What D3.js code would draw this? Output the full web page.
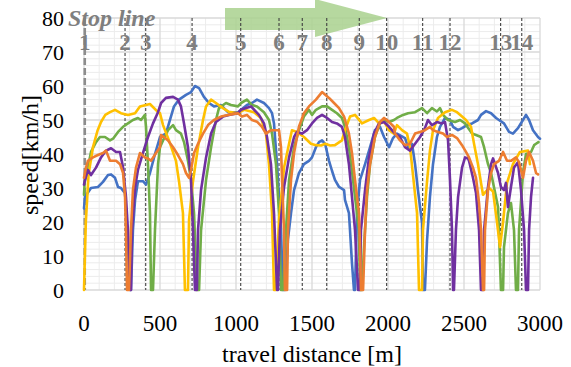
<!DOCTYPE html>
<html><head><meta charset="utf-8">
<script src="https://cdn.jsdelivr.net/npm/d3@7/dist/d3.min.js"></script>
<style>body{margin:0;background:#fff}svg{display:block}</style>
</head><body>
<svg id="chart" width="571" height="367"></svg>
<script>
// ---------- data ----------
const xTickValues = [0, 500, 1000, 1500, 2000, 2500, 3000];
const yTickValues = [0, 10, 20, 30, 40, 50, 60, 70, 80];
const stopLabels = ["1","2","3","4","5","6","7","8","9","10","11","12","13","14"];
const stopDistances = [5, 270, 406, 711, 1031, 1283, 1436, 1597, 1811, 1991, 2228, 2408, 2741, 2880];

const blue = [[0,24],[7,27.4],[46,30],[92,30.3],[125,31.8],[158,33.8],[178,34],[204,33],[224,30.3],[243,30],[270,28.5],[289,12.6],[303,0],[309,0],[322,17.6],[336,26.5],[355,32],[388,32],[408,31],[434,34.4],[467,40],[500,45],[539,46],[572,51],[592,54],[625,56],[671,57.4],[704,58.2],[730,60],[757,59.4],[789,56.8],[822,55],[855,54],[901,54.4],[947,52.3],[1013,52.3],[1072,54.4],[1105,55],[1138,56],[1184,55],[1217,53.5],[1237,52],[1250,49],[1270,37],[1296,17.6],[1309,0],[1322,0],[1342,15],[1362,22.6],[1382,29.4],[1414,34.4],[1447,37],[1480,38],[1500,39],[1526,42],[1546,43.5],[1566,44],[1586,43],[1612,38],[1632,35],[1651,32.4],[1678,30.3],[1711,29.4],[1717,26.5],[1743,22.6],[1750,17.6],[1763,7.9],[1776,0],[1783,0],[1796,22.6],[1816,32.4],[1849,37],[1882,42],[1914,47],[1947,48],[1974,45],[2007,42],[2033,44.7],[2059,46],[2112,44.7],[2132,42],[2158,43],[2178,37],[2197,29.4],[2224,19.7],[2230,0],[2243,0],[2257,14.7],[2276,27.4],[2296,37],[2322,45],[2342,48],[2375,50.6],[2408,50],[2428,48],[2461,47],[2487,47.6],[2520,48.5],[2553,49],[2592,50],[2612,51.5],[2645,52.6],[2678,52],[2711,50.6],[2730,50],[2763,49],[2796,46.5],[2822,46],[2855,47.6],[2888,50],[2908,51.5],[2928,50],[2954,47],[2987,45],[3000,44.5]];

const green = [[0,28],[5,32],[26,36],[46,40.6],[79,43.5],[105,45],[138,45],[171,44],[191,44.5],[224,46.5],[257,48],[289,49],[322,50],[355,50.6],[375,50],[401,51.5],[408,48],[421,37],[434,22.6],[441,0],[454,0],[467,17.6],[487,37],[500,42],[520,44],[553,47],[586,48.5],[605,47],[638,46],[658,43.5],[684,38],[704,32.4],[724,22.6],[743,0],[757,0],[770,17.6],[803,32.4],[836,42],[868,50],[888,53.5],[934,55],[967,54.4],[1013,54],[1033,55],[1072,56],[1105,54.4],[1138,54],[1184,52.3],[1217,50],[1237,46],[1263,37],[1283,22.6],[1296,0],[1309,0],[1329,17.6],[1349,32.4],[1382,42],[1414,47],[1447,51],[1480,53],[1500,51.5],[1526,53],[1566,54],[1599,54],[1632,53],[1664,52],[1697,50.6],[1717,48],[1743,42],[1763,35],[1783,27.4],[1809,17.6],[1816,0],[1829,0],[1842,12.6],[1862,27.4],[1882,37],[1914,45],[1947,49],[1974,50],[2007,49.4],[2039,50],[2059,50.6],[2099,51.5],[2132,52],[2178,52.3],[2224,53.5],[2257,52],[2289,53.5],[2322,52.5],[2342,53.5],[2362,51.5],[2395,50],[2441,49.4],[2474,50],[2507,49],[2530,47.5],[2553,46],[2579,45.6],[2612,45],[2632,42],[2658,37],[2678,34.4],[2697,30.3],[2724,24.4],[2730,17.6],[2743,0],[2757,0],[2763,12.6],[2789,22.6],[2809,25.6],[2829,17.6],[2842,0],[2855,0],[2862,17.6],[2888,34.4],[2908,40],[2941,40.6],[2961,42.6],[2974,43],[2990,43.5]];

const yellow = [[0,0],[12,20],[30,34],[59,42],[90,47],[112,49.4],[140,51.5],[171,52.3],[204,53],[243,52],[289,51.5],[336,52],[368,54],[434,54.7],[487,52.3],[500,52],[520,48.5],[559,44],[605,38],[625,32],[651,22.6],[664,0],[684,0],[691,20.6],[717,32],[750,42],[783,50],[803,54],[836,56],[868,55],[914,53.5],[954,52.4],[1013,52],[1053,53],[1118,52.3],[1164,50.6],[1197,46],[1217,37],[1237,22.6],[1250,0],[1263,0],[1283,20.6],[1316,36],[1349,43],[1368,47],[1401,46.5],[1447,45],[1493,43],[1526,42.6],[1560,42.5],[1586,43],[1620,42.5],[1651,42.6],[1697,44],[1717,47],[1750,51],[1783,51.5],[1829,49],[1875,50],[1908,50.6],[1941,49],[1974,49.5],[2007,47],[2039,46],[2059,48.5],[2092,47],[2125,46],[2145,42],[2164,34],[2191,22.6],[2204,0],[2224,0],[2230,17.6],[2257,32],[2276,41],[2296,47],[2329,50.6],[2375,52.3],[2421,53],[2454,52.3],[2487,51],[2513,50],[2546,48],[2566,43],[2592,37],[2612,31.5],[2625,28],[2645,29],[2665,30],[2691,29],[2717,20],[2737,12.6],[2757,20],[2783,31.5],[2822,37],[2868,40.6],[2921,41],[2934,37]];

const purple = [[0,31],[7,32.4],[26,35.3],[46,33.8],[79,36],[112,39],[145,41],[178,41.7],[211,40.6],[237,40.6],[257,36],[276,27.4],[289,17.6],[303,0],[309,0],[316,17.6],[336,30.3],[355,35.3],[388,40.3],[421,45],[454,49],[487,52.3],[507,55],[539,56.5],[586,56.8],[618,56],[638,54],[658,49],[684,42],[704,32.4],[717,17.6],[730,0],[743,0],[750,17.6],[770,29.4],[803,39],[836,46],[868,49.4],[914,51],[954,51.5],[1013,52],[1033,53],[1066,53.5],[1099,54],[1151,51.5],[1184,49],[1204,45],[1230,37],[1250,22.6],[1270,0],[1276,0],[1289,17.6],[1316,30.3],[1349,39],[1382,45],[1401,46.5],[1434,46],[1467,47],[1500,49],[1533,50.6],[1566,51.5],[1599,50.6],[1632,49.4],[1664,49],[1697,48],[1717,45],[1743,37],[1763,27.4],[1783,17.6],[1803,0],[1816,0],[1822,17.6],[1849,29.4],[1875,39],[1908,46],[1941,49],[1974,49.4],[2007,48],[2046,46],[2079,45],[2112,42],[2145,41],[2178,43],[2211,45],[2243,47.6],[2263,50],[2289,48.5],[2322,49.4],[2355,49],[2375,49.4],[2395,44],[2408,32.4],[2421,17.6],[2428,0],[2434,0],[2447,17.6],[2461,27.4],[2487,36],[2507,39],[2526,38.7],[2533,38],[2559,33],[2579,28.5],[2599,17.6],[2612,0],[2625,0],[2632,17.6],[2658,30.3],[2678,37],[2691,38.7],[2724,34.4],[2743,30.3],[2763,29.4],[2776,31.5],[2789,24.4],[2809,30.3],[2829,36],[2855,37.6],[2875,29.4],[2895,17.6],[2908,0],[2921,0],[2928,17.6],[2941,27.4],[2954,33]];

const orange = [[0,33],[13,36],[26,38],[59,39],[92,39.7],[125,40.3],[145,41],[171,38],[211,38],[237,37],[257,34.4],[270,27.4],[276,17.6],[283,0],[296,0],[309,17.6],[322,29.4],[342,36],[368,40.3],[401,39],[421,38.7],[441,38],[474,40.3],[500,42],[507,45.6],[526,45],[553,44],[586,42],[618,39.7],[651,37],[671,34.4],[691,33],[704,35.3],[724,40.3],[750,43],[783,46],[816,48.5],[855,50],[901,51],[947,51.5],[1013,52],[1039,51],[1072,51.5],[1105,50],[1138,49.5],[1171,48],[1197,46],[1230,47],[1263,47],[1283,47],[1296,42],[1303,32.4],[1316,17.6],[1322,0],[1336,0],[1342,17.6],[1362,32.4],[1382,40.3],[1414,48],[1447,52],[1480,54],[1526,56],[1566,58.2],[1612,56.5],[1645,55],[1678,53.5],[1711,51],[1743,46],[1763,40.3],[1783,32.4],[1809,22.6],[1816,12.6],[1822,0],[1836,0],[1849,17.6],[1862,29.4],[1882,37],[1914,45],[1947,49.4],[1974,50.6],[1993,50],[2039,48],[2046,46],[2079,44],[2112,42.6],[2145,43],[2178,46],[2211,46.5],[2243,47],[2276,48],[2296,47],[2329,46.5],[2362,46],[2388,45],[2421,45.6],[2454,44.7],[2487,42.6],[2513,40.6],[2533,39],[2559,36],[2579,33],[2599,25.6],[2612,17.6],[2625,0],[2632,0],[2638,17.6],[2658,29.4],[2678,34.4],[2697,37],[2730,38],[2757,40.6],[2783,38],[2809,38],[2842,39],[2862,37.6],[2888,33],[2908,38],[2928,40.6],[2954,38],[2974,34.4],[2987,34]];

// ---------- layout ----------
const W = 571, H = 367;
const plot = {left: 84, right: 540, top: 18, bottom: 290};
const x = d3.scaleLinear().domain([0, 3000]).range([plot.left, plot.right]);
const y = d3.scaleLinear().domain([0, 80]).range([plot.bottom, plot.top]);
const svg = d3.select("#chart");
svg.append("rect").attr("width", W).attr("height", H).attr("fill", "#fff");

const serif = "'Liberation Serif','Times New Roman',serif";

// minor grid
const g = svg.append("g");
g.selectAll("line.mx").data(d3.range(0, 3001, 100).filter(v => v % 500 !== 0)).join("line")
  .attr("x1", d => x(d)).attr("x2", d => x(d)).attr("y1", plot.top).attr("y2", plot.bottom)
  .attr("stroke", "#ececec").attr("stroke-width", 1);
g.selectAll("line.my").data(d3.range(0, 81, 2).filter(v => v % 10 !== 0)).join("line")
  .attr("y1", d => y(d)).attr("y2", d => y(d)).attr("x1", plot.left).attr("x2", plot.right)
  .attr("stroke", "#ececec").attr("stroke-width", 1);
// major grid
g.selectAll("line.Mx").data(xTickValues).join("line")
  .attr("x1", d => x(d)).attr("x2", d => x(d)).attr("y1", plot.top).attr("y2", plot.bottom)
  .attr("stroke", "#d9d9d9").attr("stroke-width", 1.3);
g.selectAll("line.My").data(yTickValues).join("line")
  .attr("y1", d => y(d)).attr("y2", d => y(d)).attr("x1", plot.left).attr("x2", plot.right)
  .attr("stroke", "#d9d9d9").attr("stroke-width", 1.3);

// direction arrow
svg.append("path")
  .attr("d", "M225,8 L315,8 L315,-1 L387,18 L315,37 L315,30 L225,30 Z")
  .attr("fill", "#a9d18e").attr("opacity", 0.85);

// stop lines
svg.selectAll("line.stop").data(stopDistances).join("line")
  .attr("x1", d => x(d)).attr("x2", d => x(d)).attr("y1", plot.top).attr("y2", plot.bottom)
  .attr("stroke", (d, i) => i === 0 ? "#8c8c8c" : "#404040")
  .attr("stroke-width", (d, i) => i === 0 ? 2.6 : 1.1)
  .attr("stroke-dasharray", (d, i) => i === 0 ? "7,3" : "3,2");

// series
const series = [
  {data: blue, color: "#4472c4"},
  {data: green, color: "#70ad47"},
  {data: yellow, color: "#ffc000"},
  {data: purple, color: "#7030a0"},
  {data: orange, color: "#ed7d31"}
];
const line = d3.line().x(d => x(d[0])).y(d => y(d[1]));
svg.append("g").selectAll("path").data(series).join("path")
  .attr("d", d => line(d.data)).attr("fill", "none")
  .attr("stroke", d => d.color).attr("stroke-width", 2.6)
  .attr("stroke-linejoin", "round").attr("stroke-linecap", "round");

// stop labels
svg.selectAll("text.stop").data(stopLabels).join("text")
  .attr("x", (d, i) => x(stopDistances[i])).attr("y", 50)
  .attr("text-anchor", "middle").attr("font-family", serif).attr("font-weight", "bold")
  .attr("font-size", 23).attr("fill", "#7f7f7f").text(d => d);
svg.append("text").attr("x", 68).attr("y", 26)
  .attr("font-family", serif).attr("font-weight", "bold").attr("font-style", "italic")
  .attr("font-size", 24).attr("fill", "#7f7f7f").text("Stop line");

// axes tick labels
svg.selectAll("text.yt").data(yTickValues).join("text")
  .attr("x", 64).attr("y", d => y(d)).attr("dy", "0.35em").attr("text-anchor", "end")
  .attr("font-family", serif).attr("font-size", 22).attr("fill", "#000").text(d => d);
svg.selectAll("text.xt").data(xTickValues).join("text")
  .attr("x", d => x(d)).attr("y", 331).attr("text-anchor", "middle")
  .attr("font-family", serif).attr("font-size", 23).attr("fill", "#000").text(d => d);

svg.append("text").attr("x", (plot.left + plot.right) / 2).attr("y", 362)
  .attr("text-anchor", "middle").attr("font-family", serif).attr("font-size", 24)
  .text("travel distance [m]");
svg.append("text").attr("transform", "translate(38,155) rotate(-90)")
  .attr("text-anchor", "middle").attr("font-family", serif).attr("font-size", 24)
  .text("speed[km/h]");
</script>
</body></html>
